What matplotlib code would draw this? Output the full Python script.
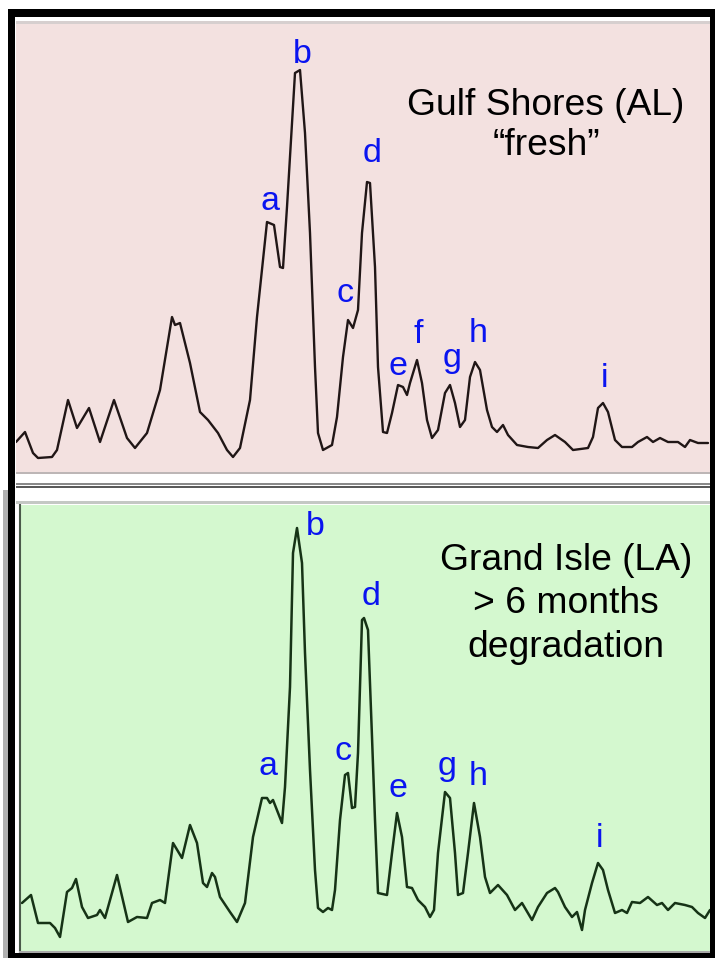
import matplotlib

matplotlib.use("Agg", force=True)
import matplotlib.pyplot as plt
from matplotlib.patches import Rectangle

plt.rcParams["font.family"] = ["Liberation Sans", "DejaVu Sans"]

# Gulf Shores (AL), fresh sample: scan number vs. detector intensity
fresh_scan = [0, 9, 17, 22, 36, 41, 52, 61, 73, 84, 98, 111, 119, 131, 144, 156, 159, 164,
              174, 184, 192, 202, 211, 217, 224, 234, 241, 251, 258, 264, 267, 271, 279, 284,
              289, 294, 299, 302, 307, 316, 321, 327, 332, 337, 342, 346, 351, 354, 359, 362,
              367, 371, 376, 382, 387, 391, 394, 401, 406, 411, 416, 422, 429, 434, 439, 444,
              449, 454, 459, 464, 471, 476, 481, 487, 492, 501, 512, 522, 531, 539, 549, 557,
              572, 577, 582, 587, 592, 599, 606, 616, 622, 631, 637, 644, 652, 662, 669, 674,
              682, 692]
fresh_int = [30, 40, 19, 14, 15, 22, 72, 44, 64, 30, 72, 34, 24, 39, 82, 155, 147, 149,
             109, 60, 52, 39, 22, 15, 24, 72, 155, 250, 247, 205, 204, 265, 399, 402,
             339, 239, 105, 39, 22, 27, 55, 115, 152, 144, 162, 239, 290, 289, 205, 105,
             40, 39, 59, 87, 85, 77, 89, 112, 89, 52, 34, 42, 79, 87, 69, 45,
             52, 95, 110, 102, 62, 45, 40, 47, 37, 27, 25, 24, 32, 37, 30, 22,
             24, 35, 64, 69, 60, 32, 25, 25, 30, 35, 30, 34, 30, 30, 25, 32,
             29, 29]

# Grand Isle (LA), after more than six months of weathering
aged_scan = [6, 15, 22, 34, 39, 44, 51, 56, 60, 66, 72, 81, 84, 89, 101, 112, 121, 131,
             136, 144, 149, 157, 166, 174, 181, 187, 191, 196, 199, 204, 214, 221, 229, 237,
             246, 251, 254, 257, 266, 269, 274, 277, 281, 286, 289, 294, 299, 302, 307, 312,
             316, 319, 324, 329, 332, 336, 339, 342, 346, 348, 352, 356, 359, 362, 371, 376,
             381, 386, 391, 396, 402, 409, 414, 418, 422, 429, 434, 439, 442, 447, 452, 458,
             464, 469, 474, 482, 491, 499, 506, 516, 522, 531, 539, 542, 549, 556, 561, 566,
             569, 576, 582, 587, 592, 599, 606, 611, 616, 624, 632, 641, 646, 652, 659, 669,
             676, 682, 689, 694]
aged_int = [49, 57, 29, 29, 24, 15, 60, 64, 73, 45, 34, 37, 42, 34, 77, 30, 35, 34,
            49, 52, 49, 109, 94, 127, 109, 69, 65, 79, 75, 55, 40, 30, 49, 115,
            154, 154, 149, 152, 129, 165, 265, 399, 424, 389, 299, 182, 82, 44, 40, 44,
            42, 62, 132, 177, 179, 144, 145, 199, 332, 334, 322, 215, 132, 59, 57, 99,
            139, 115, 65, 64, 52, 45, 35, 42, 99, 160, 154, 99, 57, 59, 99, 149,
            115, 75, 59, 67, 57, 42, 49, 32, 45, 59, 64, 60, 45, 35, 40, 22,
            42, 69, 89, 82, 62, 39, 42, 39, 50, 49, 55, 47, 49, 42, 49, 47,
            45, 39, 34, 42]

# peak letters and where each one sits (scan, intensity of the text baseline)
fresh_labels = ["a", "b", "c", "d", "e", "f", "g", "h", "i"]
fresh_label_scan = [254, 286, 329, 356, 382, 402, 436, 462, 589]
fresh_label_int = [262, 409, 170, 310, 97, 129, 105, 130, 85]

aged_labels = ["a", "b", "c", "d", "e", "g", "h", "i"]
aged_label_scan = [252, 299, 327, 355, 382, 431, 462, 584]
aged_label_int = [177, 417, 192, 347, 155, 177, 167, 105]

fresh_title = ["Gulf Shores (AL)", "\u201cfresh\u201d"]
aged_title = ["Grand Isle (LA)", "> 6 months", "degradation"]

W, H = 715, 958
PINK = "#f3e1e0"
GREEN = "#d4f8cf"
LABEL_BLUE = "#0a14f0"


def box(x0, y0, x1, y1):
    """pixel box (top-left origin) -> figure fraction rect"""
    return [x0 / W, 1 - y1 / H, (x1 - x0) / W, (y1 - y0) / H]


def add_bar(fig, x0, y0, x1, y1, color):
    l, b, w, h = box(x0, y0, x1, y1)
    fig.patches.append(Rectangle((l, b), w, h, transform=fig.transFigure,
                                 facecolor=color, edgecolor="none", zorder=0))


fig = plt.figure(figsize=(W / 100, H / 100), dpi=100)
fig.patch.set_facecolor("white")

# frame pieces around / between the two traces
add_bar(fig, 16, 21, 710, 24, "#d6cfcf")
add_bar(fig, 16, 472, 710, 474, "#bdb6b6")
add_bar(fig, 16, 483, 710, 485, "#8a8a8a")
add_bar(fig, 16, 486, 710, 488, "#5a5a5a")
add_bar(fig, 16, 501, 710, 504, "#c4c8c4")
add_bar(fig, 3, 490, 8, 958, "#b0b0b0")
add_bar(fig, 8, 9, 715, 17, "black")
add_bar(fig, 8, 9, 15, 958, "black")
add_bar(fig, 710, 9, 715, 958, "black")
add_bar(fig, 8, 953, 715, 958, "black")

ax_top = fig.add_axes(box(16, 24, 710, 472))
ax_bot = fig.add_axes(box(20, 505, 710, 952))

ax_top.set_facecolor(PINK)
ax_bot.set_facecolor(GREEN)
ax_top.plot(fresh_scan, fresh_int, color="#201616", lw=1.7,
            solid_joinstyle="round", solid_capstyle="round")
ax_bot.plot(aged_scan, aged_int, color="#163316", lw=1.8,
            solid_joinstyle="round", solid_capstyle="round")

ax_top.set_xlim(0, 694)
ax_top.set_ylim(0, 448)
ax_bot.set_xlim(4, 694)
ax_bot.set_ylim(0, 447)

for ax in (ax_top, ax_bot):
    ax.set_xticks([])
    ax.set_yticks([])
    for s in ax.spines.values():
        s.set_visible(False)
ax_bot.spines["left"].set_visible(True)
ax_bot.spines["left"].set_color("#4a5a4a")
ax_bot.spines["left"].set_linewidth(1.5)
ax_bot.spines["bottom"].set_visible(True)
ax_bot.spines["bottom"].set_color("#a8a8a8")
ax_bot.spines["bottom"].set_linewidth(1.5)

for lab, sx, si in zip(fresh_labels, fresh_label_scan, fresh_label_int):
    ax_top.text(sx, si, lab, color=LABEL_BLUE, fontsize=24.5, ha="center", va="baseline")
for lab, sx, si in zip(aged_labels, aged_label_scan, aged_label_int):
    ax_bot.text(sx, si, lab, color=LABEL_BLUE, fontsize=24.5, ha="center", va="baseline")

for line, base in zip(fresh_title, [115, 155]):
    fig.text(546 / W, 1 - base / H, line, fontsize=26.8, ha="center", va="baseline")
for line, base in zip(aged_title, [570, 613, 657]):
    fig.text(566 / W, 1 - base / H, line, fontsize=26.8, ha="center", va="baseline")

fig.savefig("out.png", dpi=100)
